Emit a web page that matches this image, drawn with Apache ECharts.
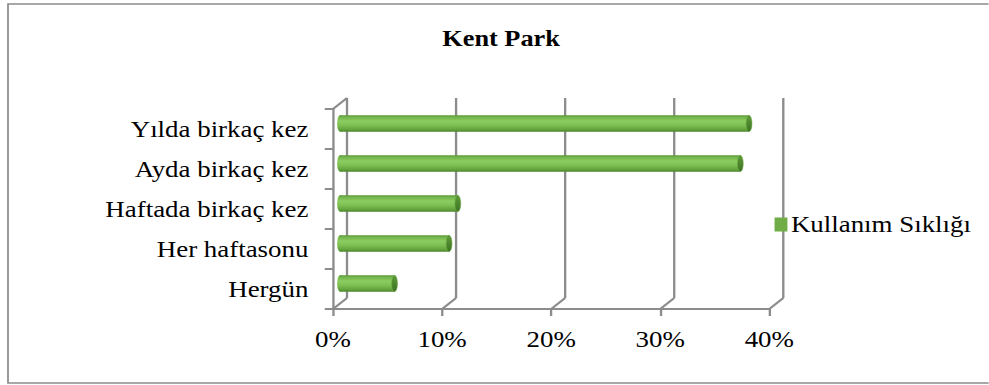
<!DOCTYPE html>
<html>
<head>
<meta charset="utf-8">
<script src="https://cdn.jsdelivr.net/npm/echarts@6/dist/echarts.min.js"></script>
<style>
html,body{margin:0;padding:0;background:#fff;overflow:hidden;}
#main{transform-origin:0 0;}
</style>
</head>
<body>
<div id="main"></div>
<script>
// ---- data ----
var titleText = 'Kent Park';
var seriesName = 'Kullanım Sıklığı';
var categories = ['Hergün', 'Her haftasonu', 'Haftada birkaç kez', 'Ayda birkaç kez', 'Yılda birkaç kez'];
var values = [5.0, 10.0, 10.8, 36.7, 37.5];
var xTicks = [0, 10, 20, 30, 40];

// ---- layout (reference is horizontally stretched) ----
var S = 1.17;
var W = 989 / S, H = 385;
var DX = 14 / S, DY = -11;       // 3D depth offset
var GRID_L = 333 / S, GRID_R = 769.3 / S;
var LINE = '#8c8c8c';
var FONT = '"Liberation Serif", "Times New Roman", serif';

var dom = document.getElementById('main');
dom.style.width = W + 'px';
dom.style.height = H + 'px';
dom.style.transform = 'scaleX(' + S + ')';
var chart = echarts.init(dom, null, {renderer: 'svg', width: W, height: H});

var lineStyle = {stroke: LINE, lineWidth: 2};

function renderWalls(params, api) {
  var cs = params.coordSys;
  var x = api.coord([api.value(0), 0])[0];
  var top = cs.y, bot = cs.y + cs.height;
  var ch = [
    {type: 'line', shape: {x1: x + DX, y1: top + DY, x2: x + DX, y2: bot + DY}, style: lineStyle},
    {type: 'line', shape: {x1: x, y1: bot, x2: x + DX, y2: bot + DY}, style: lineStyle}
  ];
  if (params.dataIndex === 0) {
    ch.push({type: 'line', shape: {x1: x, y1: top, x2: x + DX, y2: top + DY}, style: lineStyle});
  }
  return {type: 'group', children: ch};
}

function bodyGrad() {
  return new echarts.graphic.LinearGradient(0, 0, 0, 1, [
    {offset: 0, color: '#5a9a36'},
    {offset: 0.12, color: '#72b549'},
    {offset: 0.35, color: '#8bcd60'},
    {offset: 0.6, color: '#7ec053'},
    {offset: 0.85, color: '#66a63e'},
    {offset: 1, color: '#4b862c'}
  ]);
}

function renderBars(params, api) {
  var idx = api.value(1);
  var p0 = api.coord([0, idx]);
  var p1 = api.coord([api.value(0), idx]);
  var bandH = api.size([0, 1])[1];
  var h = bandH * 0.41;
  var cy = p0[1] + DY / 2;
  var x0 = p0[0] + DX / 2, x1 = p1[0] + DX / 2;
  var rx = 2.5;
  var sc = rx / (h / 2);
  return {
    type: 'group',
    children: [
      {type: 'circle', shape: {cx: 0, cy: 0, r: h / 2}, x: x0, y: cy, scaleX: sc, style: {fill: bodyGrad()}},
      {type: 'rect', shape: {x: x0, y: cy - h / 2, width: x1 - x0, height: h}, style: {fill: bodyGrad()}},
      {type: 'circle', shape: {cx: 0, cy: 0, r: h / 2}, x: x1, y: cy, scaleX: sc,
        style: {
          fill: new echarts.graphic.LinearGradient(0, 0, 0, 1, [
            {offset: 0, color: '#5e9b39'},
            {offset: 1, color: '#3e7222'}
          ]),
          stroke: '#6aa846', lineWidth: 0.8
        }}
    ]
  };
}

var option = {
  animation: false,
  backgroundColor: '#fff',
  title: {
    text: titleText,
    left: 378, top: 27, padding: 0,
    textStyle: {fontFamily: FONT, fontWeight: 'bold', fontSize: 22.5, color: '#000'}
  },
  legend: {
    data: [{name: seriesName, icon: 'rect', itemStyle: {color: '#70ad47'}}],
    left: 657, top: 208,
    itemWidth: 11, itemHeight: 14, itemGap: 0,
    textStyle: {fontFamily: FONT, fontSize: 23, color: '#000', padding: [0, 0, 0, -2]}
  },
  graphic: [{
    type: 'rect', silent: true, z: -10,
    shape: {x: 8 / S, y: 4, width: (1000 - 8) / S, height: 379},
    style: {fill: 'none', stroke: LINE, lineWidth: 1.5}
  }],
  grid: {left: GRID_L, width: GRID_R - GRID_L, top: 109, height: 200},
  xAxis: {
    type: 'value', min: xTicks[0], max: xTicks[xTicks.length - 1], interval: 10,
    splitLine: {show: false},
    axisLine: {show: true, lineStyle: {color: LINE, width: 2}},
    axisTick: {show: true, length: 7, lineStyle: {color: LINE, width: 2}},
    axisLabel: {formatter: '{value}%', margin: 19, fontFamily: FONT, fontSize: 23, color: '#000'}
  },
  yAxis: {
    type: 'category', data: categories,
    axisLine: {show: true, lineStyle: {color: LINE, width: 2}},
    axisTick: {show: true, length: 7, lineStyle: {color: LINE, width: 2}},
    axisLabel: {margin: 21, fontFamily: FONT, fontSize: 23, color: '#000'},
    splitLine: {show: false}
  },
  series: [
    {
      name: 'walls', type: 'custom', silent: true, z: 1,
      renderItem: renderWalls,
      data: xTicks.map(function (v) { return [v, 0]; })
    },
    {
      name: seriesName, type: 'custom', z: 3,
      itemStyle: {color: '#70ad47'},
      renderItem: renderBars,
      encode: {x: 0, y: 1},
      data: values.map(function (v, i) { return [v, i]; })
    }
  ]
};
chart.setOption(option);
</script>
</body>
</html>
